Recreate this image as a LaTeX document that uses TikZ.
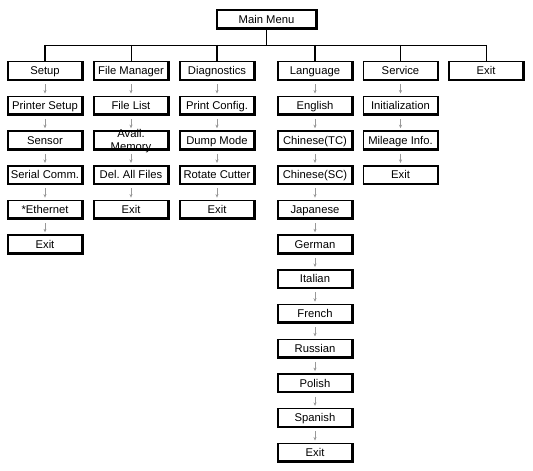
\documentclass[tikz,border=0pt]{standalone}
\usepackage{fontspec}
\setmainfont{Liberation Sans}
\usetikzlibrary{positioning, arrows.meta}

\tikzset{
    menubox/.style={draw, line width=1.1pt, minimum width=1.85cm, minimum height=0.44cm,
        inner sep=0pt, text height=7pt, text depth=1pt,
        font=\fontsize{8}{9}\selectfont\frenchspacing,
        append after command={\pgfextra{\draw[line width=1.6pt]
            (\tikzlastnode.south west) -- (\tikzlastnode.south east) -- (\tikzlastnode.north east);}}},
    nextarrow/.style={draw=gray!80, line width=0.35pt, -{Stealth[length=2.5pt, width=2.2pt]},
        shorten <=3pt, shorten >=1.5pt},
    drop/.style={line width=1.3pt},
    thindrop/.style={line width=0.6pt}
}

\begin{document}
\begin{tikzpicture}[x=0.025cm, y=-0.025cm]
    \useasboundingbox (0,0) rectangle (533,471);

    % Row spacing of the sub menus
    \def\rowstep{34.7}
    \def\toprow{70.5}

    \node[menubox, minimum width=2.475cm] (main) at (266.5,19) {Main Menu};

    % Setup column
    \foreach \txt [count=\i from 0] in {Setup, Printer Setup, Sensor, Serial Comm., *Ethernet, Exit}
        \node[menubox] (set\i) at (45, \toprow+\rowstep*\i) {\txt};

    % File Manager column
    \foreach \txt [count=\i from 0] in {File Manager, File List,
            {\begin{tabular}{@{}c@{}}Avail.\\Memory\end{tabular}}, Del. All Files, Exit}
        \node[menubox] (fm\i) at (131, \toprow+\rowstep*\i) {\txt};

    % Diagnostics column
    \foreach \txt [count=\i from 0] in {Diagnostics, Print Config., Dump Mode, Rotate Cutter, Exit}
        \node[menubox] (diag\i) at (217, \toprow+\rowstep*\i) {\txt};

    % Language column
    \foreach \txt [count=\i from 0] in {Language, English, Chinese(TC), Chinese(SC), Japanese, German,
            Italian, French, Russian, Polish, Spanish, Exit}
        \node[menubox] (lang\i) at (315, \toprow+\rowstep*\i) {\txt};

    % Service column
    \foreach \txt [count=\i from 0] in {Service, Initialization, Mileage Info., Exit}
        \node[menubox] (svc\i) at (400.5, \toprow+\rowstep*\i) {\txt};

    \node[menubox] (exit) at (486, \toprow) {Exit};

    % Bus from the main menu
    \coordinate (busl) at (set0 |- 0,45);
    \coordinate (busr) at (exit |- 0,45);
    \draw[thindrop] (busl) -- (busr);
    \draw[drop] (main.south) -- (main |- busl);
    \draw[drop] (busl) -- (set0.north);
    \draw[thindrop] (fm0 |- busl) -- (fm0.north);
    \draw[drop] (diag0 |- busl) -- (diag0.north);
    \draw[drop] (lang0 |- busl) -- (lang0.north);
    \draw[drop] (svc0 |- busl) -- (svc0.north);
    \draw[thindrop] (busr) -- (exit.north);

    % Arrows down each column
    \foreach \col/\last in {set/5, fm/4, diag/4, lang/11, svc/3}
        \foreach \i in {1,...,\last} {
            \pgfmathtruncatemacro{\j}{\i-1}
            \draw[nextarrow] (\col\j) -- (\col\i);
        }
\end{tikzpicture}
\end{document}
